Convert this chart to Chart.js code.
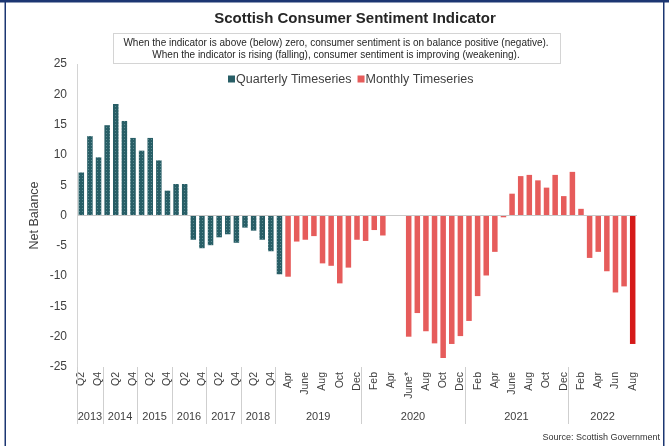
<!DOCTYPE html>
<html>
<head>
<meta charset="utf-8">
<title>Scottish Consumer Sentiment Indicator</title>
<script src="https://cdn.jsdelivr.net/npm/chart.js@4.4.1/dist/chart.umd.min.js"></script>
<style>
  html, body { margin: 0; padding: 0; background: #fff; }
  canvas { display: block; }
</style>
</head>
<body>
<canvas id="sentimentChart" width="669" height="446"></canvas>
<script>
// Quarterly survey: 2013 Q2 to 2019 Q1
const quarterLabels = ['Q2', 'Q3', 'Q4',
  'Q1', 'Q2', 'Q3', 'Q4', 'Q1', 'Q2', 'Q3', 'Q4', 'Q1', 'Q2', 'Q3', 'Q4',
  'Q1', 'Q2', 'Q3', 'Q4', 'Q1', 'Q2', 'Q3', 'Q4', 'Q1'];
const quarterlyValues = [7.1, 13.1, 9.6, 14.9, 18.4, 15.6, 12.8, 10.7, 12.8, 9.1, 4.1, 5.2,
  5.2, -4.0, -5.4, -4.9, -3.6, -3.1, -4.5, -2.0, -2.5, -4.0, -5.9, -9.7];

// Monthly survey: Apr 2019 to Aug 2022 (no survey Apr/May 2020)
const monthLabels = ['Apr', 'May', 'June', 'Jul', 'Aug', 'Sep', 'Oct', 'Nov', 'Dec',
  'Jan', 'Feb', 'Mar', 'Apr', 'May', 'June*', 'Jul', 'Aug', 'Sep', 'Oct', 'Nov', 'Dec',
  'Jan', 'Feb', 'Mar', 'Apr', 'May', 'June', 'Jul', 'Aug', 'Sep', 'Oct', 'Nov', 'Dec',
  'Jan', 'Feb', 'Mar', 'Apr', 'May', 'Jun', 'Jul', 'Aug'];
const monthlyValues = [-10.1, -4.3, -4.0, -3.4, -7.9, -8.3, -11.2, -8.6, -4.0,
  -4.2, -2.4, -3.3, null, null, -20.0, -16.1, -19.1, -21.1, -23.5, -21.2, -19.9,
  -17.4, -13.3, -9.9, -6.0, -0.3, 3.6, 6.5, 6.7, 5.8, 4.6, 6.7, 3.2,
  7.2, 1.1, -7.0, -6.0, -9.2, -12.7, -11.7, -21.2];

// Year groups along the bottom of the x axis
const yearNames = ['2013', '2014', '2015', '2016', '2017', '2018', '2019', '2020', '2021', '2022'];
const yearCounts = [3, 4, 4, 4, 4, 4, 10, 12, 12, 8];

const yTicks = [-25, -20, -15, -10, -5, 0, 5, 10, 15, 20, 25];

const titleText = 'Scottish Consumer Sentiment Indicator';
const noteLines = [
  'When the indicator is above (below) zero, consumer sentiment is on balance positive (negative).',
  'When the indicator is rising (falling), consumer sentiment is improving (weakening).'
];
const sourceText = 'Source: Scottish Government';

const FONT = '"Liberation Sans", Arial, sans-serif';
const TEAL = '#285e66';
const RED = '#e65c5b';
const DARK_RED = '#d51a19';

const allLabels = quarterLabels.concat(monthLabels);
const quarterData = quarterlyValues.concat(monthLabels.map(() => null));
const monthData = quarterLabels.map(() => null).concat(monthlyValues);

// dotted fill for the quarterly bars
function dotPattern() {
  const c = document.createElement('canvas');
  c.width = 3; c.height = 3;
  const g = c.getContext('2d');
  g.fillStyle = TEAL;
  g.fillRect(0, 0, 3, 3);
  g.fillStyle = '#5d8c92';
  g.fillRect(1, 1, 1, 1);
  return g.createPattern(c, 'repeat');
}

const decorations = {
  id: 'decorations',
  afterDraw(chart) {
    const ctx = chart.ctx;
    const x = chart.scales.x;
    const area = chart.chartArea;
    const step = x.getPixelForValue(1) - x.getPixelForValue(0);
    ctx.save();

    // outer frame
    ctx.fillStyle = '#1c3672';
    ctx.fillRect(0, 0, chart.width, 2.5);
    ctx.fillRect(4.5, 0, 1.5, chart.height);
    ctx.fillRect(663, 0, 1.5, chart.height);

    // title
    ctx.fillStyle = '#262626';
    ctx.textAlign = 'center';
    ctx.textBaseline = 'middle';
    ctx.font = 'bold 15px ' + FONT;
    ctx.fillText(titleText, 355, 19);

    // note box
    ctx.strokeStyle = '#d4d4d4';
    ctx.lineWidth = 1;
    ctx.strokeRect(113.5, 33.5, 447, 30);
    ctx.font = '10px ' + FONT;
    ctx.fillText(noteLines[0], 336, 43.5);
    ctx.fillText(noteLines[1], 336, 55);

    // legend
    ctx.font = '12.5px ' + FONT;
    ctx.textAlign = 'left';
    let lx = 228;
    const items = [['Quarterly Timeseries', TEAL], ['Monthly Timeseries', RED]];
    items.forEach(([label, colour]) => {
      ctx.fillStyle = colour;
      ctx.fillRect(lx, 75.5, 7, 7);
      lx += 8;
      ctx.fillStyle = '#404040';
      ctx.fillText(label, lx, 79.5);
      lx += ctx.measureText(label).width + 6;
    });

    // year separators and names
    const top = area.bottom;
    const bottom = area.bottom + 57;
    ctx.strokeStyle = '#cfcfcf';
    ctx.beginPath();
    ctx.moveTo(area.left + 0.5, top);
    ctx.lineTo(area.left + 0.5, bottom);
    ctx.stroke();
    ctx.font = '11px ' + FONT;
    ctx.textAlign = 'center';
    ctx.fillStyle = '#404040';
    let start = 0;
    yearNames.forEach((name, i) => {
      const end = start + yearCounts[i];
      const left = x.getPixelForValue(start) - step / 2;
      const right = x.getPixelForValue(end - 1) + step / 2;
      ctx.fillText(name, (left + right) / 2, area.bottom + 50);
      if (i < yearNames.length - 1) {
        ctx.beginPath();
        ctx.moveTo(Math.round(right) + 0.5, top);
        ctx.lineTo(Math.round(right) + 0.5, bottom);
        ctx.stroke();
      }
      start = end;
    });

    // source
    ctx.font = '9px ' + FONT;
    ctx.textAlign = 'right';
    ctx.fillStyle = '#333333';
    ctx.fillText(sourceText, 660, 438);
    ctx.restore();
  }
};

new Chart(document.getElementById('sentimentChart'), {
  type: 'bar',
  data: {
    labels: allLabels,
    datasets: [{
      label: 'Quarterly Timeseries',
      data: quarterData,
      backgroundColor: dotPattern(),
      grouped: false
    }, {
      label: 'Monthly Timeseries',
      data: monthData,
      backgroundColor: ctx => ctx.dataIndex === allLabels.length - 1 ? DARK_RED : RED,
      grouped: false
    }]
  },
  options: {
    responsive: false,
    animation: false,
    devicePixelRatio: 1,
    layout: { padding: { left: 24, right: 32, top: 64, bottom: 0 } },
    datasets: { bar: { barPercentage: 1, categoryPercentage: 0.64 } },
    plugins: {
      legend: { display: false },
      tooltip: { enabled: false }
    },
    scales: {
      x: {
        grid: { display: false, drawTicks: false },
        border: { display: false },
        ticks: {
          autoSkip: false,
          minRotation: 90,
          maxRotation: 90,
          padding: 5,
          color: '#404040',
          font: { family: FONT, size: 10.5 },
          callback: (value, index) => index % 2 === 0 ? allLabels[index] : ''
        },
        afterFit: scale => { scale.height = 79; }
      },
      y: {
        min: yTicks[0],
        max: yTicks[yTicks.length - 1],
        afterBuildTicks: scale => { scale.ticks = yTicks.map(v => ({ value: v })); },
        ticks: { padding: 10, color: '#404040', font: { family: FONT, size: 12 } },
        grid: {
          drawTicks: false,
          color: ctx => ctx.tick && ctx.tick.value === 0 ? '#c9c9c9' : 'rgba(0,0,0,0)'
        },
        border: { display: true, color: '#d4d4d4' },
        title: {
          display: true,
          text: 'Net Balance',
          color: '#404040',
          font: { family: FONT, size: 12.5 },
          padding: { top: 3, bottom: 4 }
        },
        afterFit: scale => { scale.width = 53; }
      }
    }
  },
  plugins: [decorations]
});
</script>
</body>
</html>
